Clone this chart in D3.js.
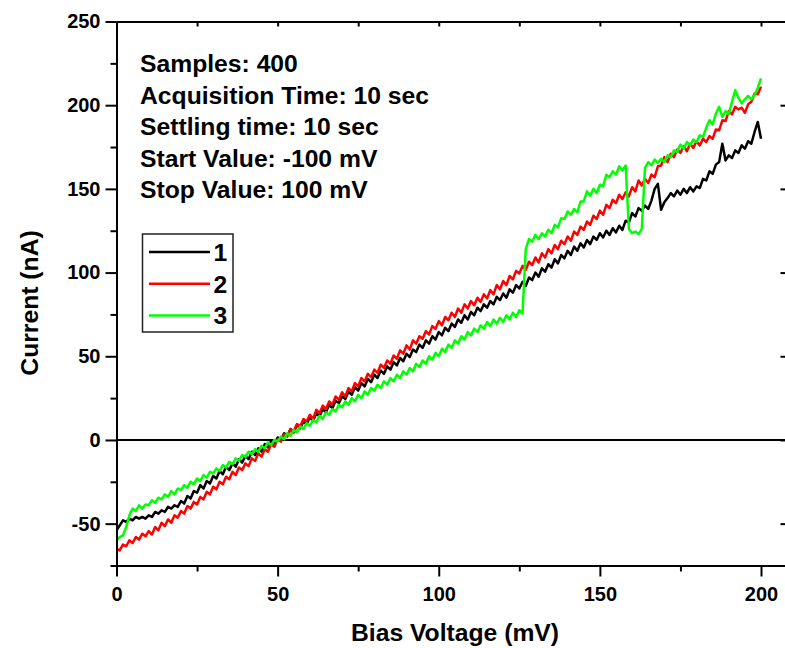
<!DOCTYPE html>
<html>
<head>
<meta charset="utf-8">
<script src="https://cdn.jsdelivr.net/npm/d3@7"></script>
<style>
  body { margin: 0; background: #fff; }
  svg text { font-family: "Liberation Sans", Arial, sans-serif; font-weight: bold; fill: #000; }
</style>
</head>
<body>
<div class="chart"></div>
<script>
// Bias voltage grid (mV) - one sample per mV
const biasVoltage = d3.range(0, 201);

// Current (nA)
const current1 = [
    -54, -51, -48, -49, -47, -48, -46, -47, -46, -47,
    -45, -46, -43, -44, -42, -43, -40, -41, -39, -40,
    -36.5, -38, -33.5, -35, -30.5, -31.5, -27, -29, -24.5, -26,
    -21.5, -23, -18.5, -20.5, -16, -18, -14, -16, -11.5, -13.5,
    -9.5, -11.5, -7, -9, -5, -7, -2.5, -4.5, -0.5, -2.5,
    1.5, -0.5, 4, 2.5, 6.5, 4.5, 9, 7, 11, 9.5,
    13.5, 11.5, 16, 14, 18.5, 16.5, 21, 19, 23.5, 22,
    26, 24.5, 29, 27, 31.5, 29.5, 34, 32, 36.5, 34.5,
    39, 37, 41.5, 39.5, 44, 42, 46.5, 44.5, 49, 47,
    51.5, 49.5, 54, 52.5, 57, 55, 59.5, 57.5, 62, 60,
    64.5, 62.5, 67, 65, 69.5, 67.5, 72, 70, 74.5, 72,
    76.5, 74.5, 79, 77, 81, 79, 83, 81, 85.5, 83.5,
    87.5, 85, 90, 88, 92.5, 90.5, 94.5, 92, 97, 95.5,
    100, 97.5, 102.5, 100.5, 105, 103, 108, 105.5, 110.5, 108.5,
    113, 110.5, 115.5, 113, 117.5, 115, 119.5, 117, 121.5, 119.5,
    123.5, 121, 125, 122.5, 126.5, 124, 128, 125.5, 131, 130,
    135.5, 133.5, 138.5, 137, 140, 138, 143, 150, 153, 137.5,
    142, 144.5, 147.5, 145.5, 149, 146.5, 150, 147.5, 151, 148.5,
    151.5, 150.5, 156, 155, 160.5, 159, 164.5, 166, 177, 167,
    170, 168.5, 173, 171.5, 176, 174, 178.5, 177, 184, 190,
    180
];

const current2 = [
    -65, -66, -62.5, -63.5, -60, -61.5, -58, -59.5, -56, -57.5,
    -54.5, -56.5, -52, -54, -49.5, -51.5, -47.5, -49.5, -45, -46.5,
    -42.5, -44, -39.5, -41, -37, -38.5, -34, -35.5, -31, -32.5,
    -28, -29.5, -25, -26.5, -22, -23.5, -19, -21, -16.5, -18,
    -14, -15.5, -11, -12.5, -8, -10, -5.5, -7, -2.5, -4,
    0.5, -1, 3.5, 2, 6.5, 5, 9.5, 8, 12.5, 11,
    15, 12.5, 18, 16, 20.5, 18.5, 23, 21, 26, 24,
    28.5, 26, 31, 29, 34, 32, 37, 35, 39.5, 37.5,
    42, 40, 45, 43, 47.5, 45.5, 50.5, 48.5, 53.5, 51.5,
    56.5, 54, 59.5, 57.5, 62, 60.5, 65, 63, 68, 66.5,
    71, 68.5, 73.5, 71.5, 76, 73.5, 78.5, 76, 81, 78.5,
    83, 80.5, 85, 82.5, 87, 84.5, 89.5, 87, 92.5, 90,
    95, 92.5, 98, 96, 101, 99.5, 104, 101.5, 106.5, 104.5,
    109, 106, 111.5, 109, 114, 111.5, 116.5, 114, 119, 117,
    121.5, 119, 124.5, 122.5, 127.5, 125.5, 130.5, 128.5, 134, 132,
    137, 134.5, 140.5, 138.5, 143.5, 141.5, 146.5, 144, 148, 145.5,
    151, 148.5, 155, 152, 156, 153.5, 158.5, 157, 163.5, 164,
    169, 166, 171, 169, 173.5, 171.5, 175.5, 172.5, 177, 174.5,
    178.5, 176, 180, 178, 181.5, 180, 185.5, 185, 191, 190.5,
    196.5, 194.5, 199, 197.5, 198.5, 195.5, 200.5, 202, 207, 206.5,
    211
];

const current3 = [
    -60, -58, -57, -52, -45, -41, -42.5, -39, -41, -38.5,
    -39, -36, -37.5, -34.5, -35.5, -32.5, -34, -30.5, -32.5, -29,
    -30, -27, -28.5, -25, -26.5, -23, -24.5, -21, -22.5, -19,
    -20, -17, -18.5, -15, -16.5, -13, -14.5, -11, -12.5, -9,
    -10, -7, -8.5, -5.5, -7, -3.5, -5, -1.5, -3, 0,
    -1, 2, 0.5, 4, 2.5, 6, 4.5, 8, 6.5, 10,
    8.5, 12, 10.5, 14.5, 12.5, 16.5, 15, 18.5, 17, 21,
    19.5, 23, 21, 25, 23, 27, 25, 29, 27, 31,
    29.5, 33, 31, 35, 33, 37, 35, 39, 37, 41,
    39, 43, 41, 45.5, 43.5, 47.5, 45.5, 50, 48, 52,
    50, 54.5, 52.5, 57, 55, 59.5, 57.5, 62, 60, 64.5,
    62.5, 66.5, 64.5, 68.5, 66.5, 70.5, 68, 72, 69.5, 73,
    70.5, 74.5, 72, 76, 73.5, 77.5, 75.5, 114, 120, 118.5,
    122.5, 120, 123.5, 121.5, 125.5, 123.5, 128.5, 127, 132.5, 132,
    136.5, 134.5, 138, 136, 142.5, 142.5, 148.5, 146, 150, 147.5,
    152.5, 151.5, 158.5, 157, 160.5, 158.5, 163.5, 161, 164, 126,
    123.5, 124.5, 123, 126, 162.5, 166, 164, 167.5, 165.5, 168,
    166, 170, 169, 173, 172, 176.5, 174, 178, 176, 179.5,
    178, 182, 181, 186.5, 191, 188.5, 195, 199, 193, 196.5,
    194.5, 202, 209, 204.5, 201, 203.5, 205.5, 203.5, 206, 210.5,
    216
];

const seriesNames = ["1", "2", "3"];
const seriesColors = ["#000000", "#ff0000", "#00ff00"];

const xMajorTicks = [0, 50, 100, 150, 200];
const xMinorTicks = [25, 75, 125, 175];
const yMajorTicks = [-50, 0, 50, 100, 150, 200, 250];
const yMinorTicks = [-75, -25, 25, 75, 125, 175, 225];

const infoLines = [
    "Samples: 400",
    "Acquisition Time: 10 sec",
    "Settling time: 10 sec",
    "Start Value: -100 mV",
    "Stop Value: 100 mV"
];

const width = 785;
const height = 648;
const plot = { left: 116.5, right: 785.5, top: 21.5, bottom: 565.5 };

const svg = d3.select(".chart").append("svg")
    .attr("width", width)
    .attr("height", height);

// Scales
const x = d3.scaleLinear()
    .domain([0, 207.6])
    .range([plot.left, plot.right]);

const y = d3.scaleLinear()
    .domain([-75, 250])
    .range([plot.bottom, plot.top]);

// Clip so the traces stay inside the frame
svg.append("clipPath")
    .attr("id", "plot-clip")
    .append("rect")
    .attr("x", plot.left)
    .attr("y", plot.top)
    .attr("width", plot.right - plot.left)
    .attr("height", plot.bottom - plot.top);

// Zero line
svg.append("line")
    .attr("x1", plot.left)
    .attr("x2", plot.right)
    .attr("y1", y(0))
    .attr("y2", y(0))
    .attr("stroke", "#000")
    .attr("stroke-width", 2);

// The three traces
const series = [current1, current2, current3];

const line = d3.line()
    .x((d, i) => x(biasVoltage[i]))
    .y(d => y(d));

svg.append("g")
    .attr("clip-path", "url(#plot-clip)")
    .selectAll("path")
    .data(series)
    .enter().append("path")
    .attr("fill", "none")
    .attr("stroke", (d, i) => seriesColors[i])
    .attr("stroke-width", 2.5)
    .attr("stroke-linejoin", "round")
    .attr("d", line);

// Axes helper: style lines and text like the original plot
function styleAxis(g) {
    g.attr("font-size", 20)
        .attr("font-family", null)
        .selectAll("line, path").attr("stroke-width", 2);
}

// Plain hyphen for negatives, as in the original
const plainNumber = d => String(d);

// Minor ticks first, then major ticks with labels
svg.append("g")
    .attr("transform", `translate(${plot.left},0)`)
    .call(d3.axisLeft(y).tickValues(yMinorTicks).tickSize(6).tickSizeOuter(0).tickFormat(""))
    .call(styleAxis);

svg.append("g")
    .attr("transform", `translate(${plot.left},0)`)
    .call(d3.axisLeft(y).tickValues(yMajorTicks).tickSize(11).tickSizeOuter(0).tickPadding(5).tickFormat(plainNumber))
    .call(styleAxis);

svg.append("g")
    .attr("transform", `translate(0,${plot.bottom})`)
    .call(d3.axisBottom(x).tickValues(xMinorTicks).tickSize(6).tickSizeOuter(0).tickFormat(""))
    .call(styleAxis);

svg.append("g")
    .attr("transform", `translate(0,${plot.bottom})`)
    .call(d3.axisBottom(x).tickValues(xMajorTicks).tickSize(11).tickSizeOuter(0).tickPadding(10).tickFormat(plainNumber))
    .call(styleAxis);

// Top and right frame with small inward ticks
svg.append("g")
    .attr("transform", `translate(0,${plot.top})`)
    .call(d3.axisTop(x).tickValues(xMajorTicks.concat(xMinorTicks)).tickSize(-5).tickSizeOuter(0).tickFormat(""))
    .call(styleAxis);

svg.append("g")
    .attr("transform", `translate(${plot.right},0)`)
    .call(d3.axisRight(y).tickValues(yMajorTicks).tickSize(-5).tickSizeOuter(0).tickFormat(""))
    .call(styleAxis);

// Axis titles
svg.append("text")
    .attr("x", 455)
    .attr("y", 641)
    .attr("text-anchor", "middle")
    .style("font-size", "24.7px")
    .text("Bias Voltage (mV)");

svg.append("text")
    .attr("transform", "rotate(-90)")
    .attr("x", -303)
    .attr("y", 38)
    .attr("text-anchor", "middle")
    .style("font-size", "24.7px")
    .text("Current (nA)");

// Acquisition settings
svg.selectAll(".info")
    .data(infoLines)
    .enter().append("text")
    .attr("class", "info")
    .attr("x", 140)
    .attr("y", (d, i) => 72 + i * 31.5)
    .style("font-size", "24.7px")
    .text(d => d);

// Legend
const legend = svg.append("g")
    .attr("transform", "translate(142.5,234)");

legend.append("rect")
    .attr("width", 90.5)
    .attr("height", 98)
    .attr("fill", "#fff")
    .attr("stroke", "#222")
    .attr("stroke-width", 1.5);

const legendItem = legend.selectAll(".legend-item")
    .data(seriesNames)
    .enter().append("g")
    .attr("class", "legend-item")
    .attr("transform", (d, i) => `translate(0,${18 + i * 31.7})`);

legendItem.append("line")
    .attr("x1", 6.5)
    .attr("x2", 67.5)
    .attr("stroke", (d, i) => seriesColors[i])
    .attr("stroke-width", 2.5);

legendItem.append("text")
    .attr("x", 71)
    .attr("dy", "0.36em")
    .style("font-size", "24.7px")
    .text(d => d);
</script>
</body>
</html>
